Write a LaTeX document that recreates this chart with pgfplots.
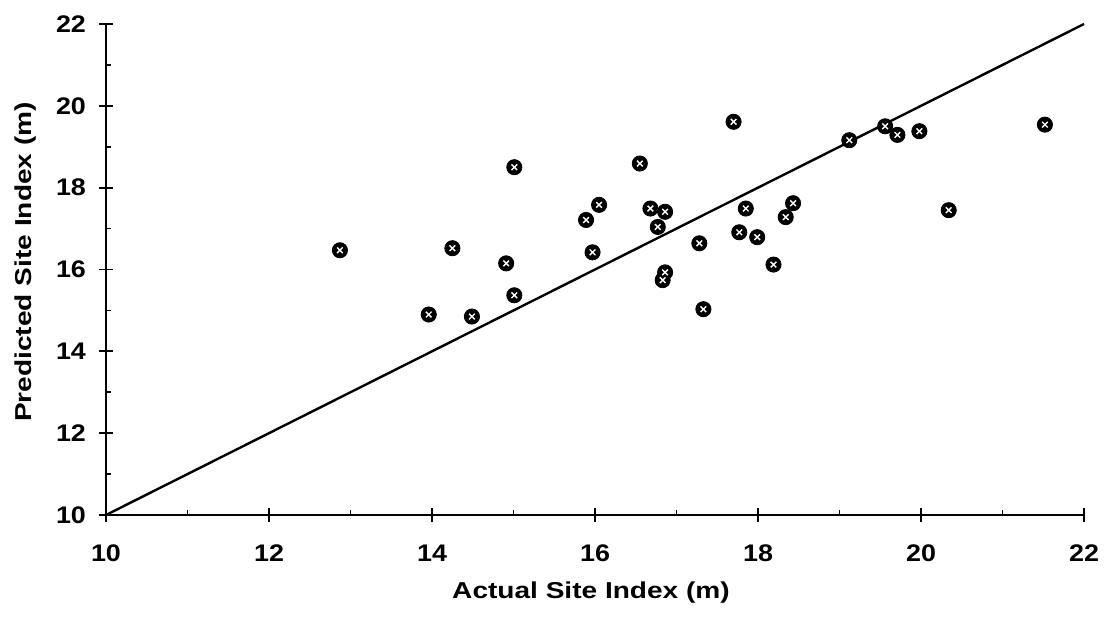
\documentclass[border=0pt]{standalone}
\usepackage{fontspec}
\setmainfont{Liberation Sans}
\newfontfamily\tickfont{Liberation Sans}[FakeStretch=1.12]
\newfontfamily\labelfont{Liberation Sans}[FakeStretch=1.22]
\usepackage{pgfplots}
\pgfplotsset{compat=1.18}
\usepackage{pgfplotstable}

% actual vs predicted site index for each plot
\pgfplotstableread{
x      y
12.87  16.47
13.96  14.90
14.25  16.52
14.49  14.85
14.91  16.15
15.01  15.37
15.01  18.50
15.89  17.21
16.05  17.58
15.97  16.42
16.55  18.59
16.68  17.49
16.86  17.41
16.77  17.04
16.86  15.93
16.83  15.74
17.28  16.64
17.33  15.03
17.70  19.61
17.85  17.49
17.77  16.91
17.99  16.79
18.19  16.12
18.34  17.28
18.43  17.62
19.12  19.16
19.56  19.50
19.71  19.29
19.98  19.38
20.34  17.45
21.52  19.54
}\sitedata

\begin{document}
\begin{tikzpicture}
\path[use as bounding box] (-53pt,-52.5pt) rectangle (500pt,257.5pt);
\begin{axis}[
  at={(0,0)}, anchor=south west,
  scale only axis, width=489pt, height=245.5pt,
  xmin=10, xmax=22, ymin=10, ymax=22,
  axis lines*=left,
  axis line style={line width=1pt, black},
  xtick={10,12,...,22}, ytick={10,12,...,22},
  minor tick num=1,
  tick align=center,
  major tick length=7pt, minor tick length=2.5pt,
  every tick/.style={black, line width=0.9pt},
  minor x tick style={yshift=1.25pt},
  minor y tick style={xshift=1.25pt},
  /pgf/number format/assume math mode=true,
  tick label style={font=\tickfont\bfseries\fontsize{12}{14}\selectfont},
  xticklabel style={yshift=-8pt},
  yticklabel style={xshift=-3pt},
  clip=false,
]
  % one-to-one reference line
  \addplot[black, line width=1.2pt] coordinates {(10,10) (22,22)};
  % observations: dark discs with a light cross
  \addplot[only marks, mark=*, mark size=3.8pt,
    mark options={fill=black, draw=black}] table {\sitedata};
  \addplot[only marks, mark=x, mark size=2pt,
    mark options={draw=white, line width=0.7pt}] table {\sitedata};
\end{axis}
\node[anchor=base, font=\labelfont\bfseries\fontsize{11.5}{14}\selectfont]
  at (242.5pt,-41.5pt) {Actual Site Index (m)};
\node[anchor=base, rotate=90, font=\labelfont\bfseries\fontsize{11.5}{14}\selectfont]
  at (-37.5pt,126.5pt) {Predicted Site Index (m)};
\end{tikzpicture}
\end{document}
